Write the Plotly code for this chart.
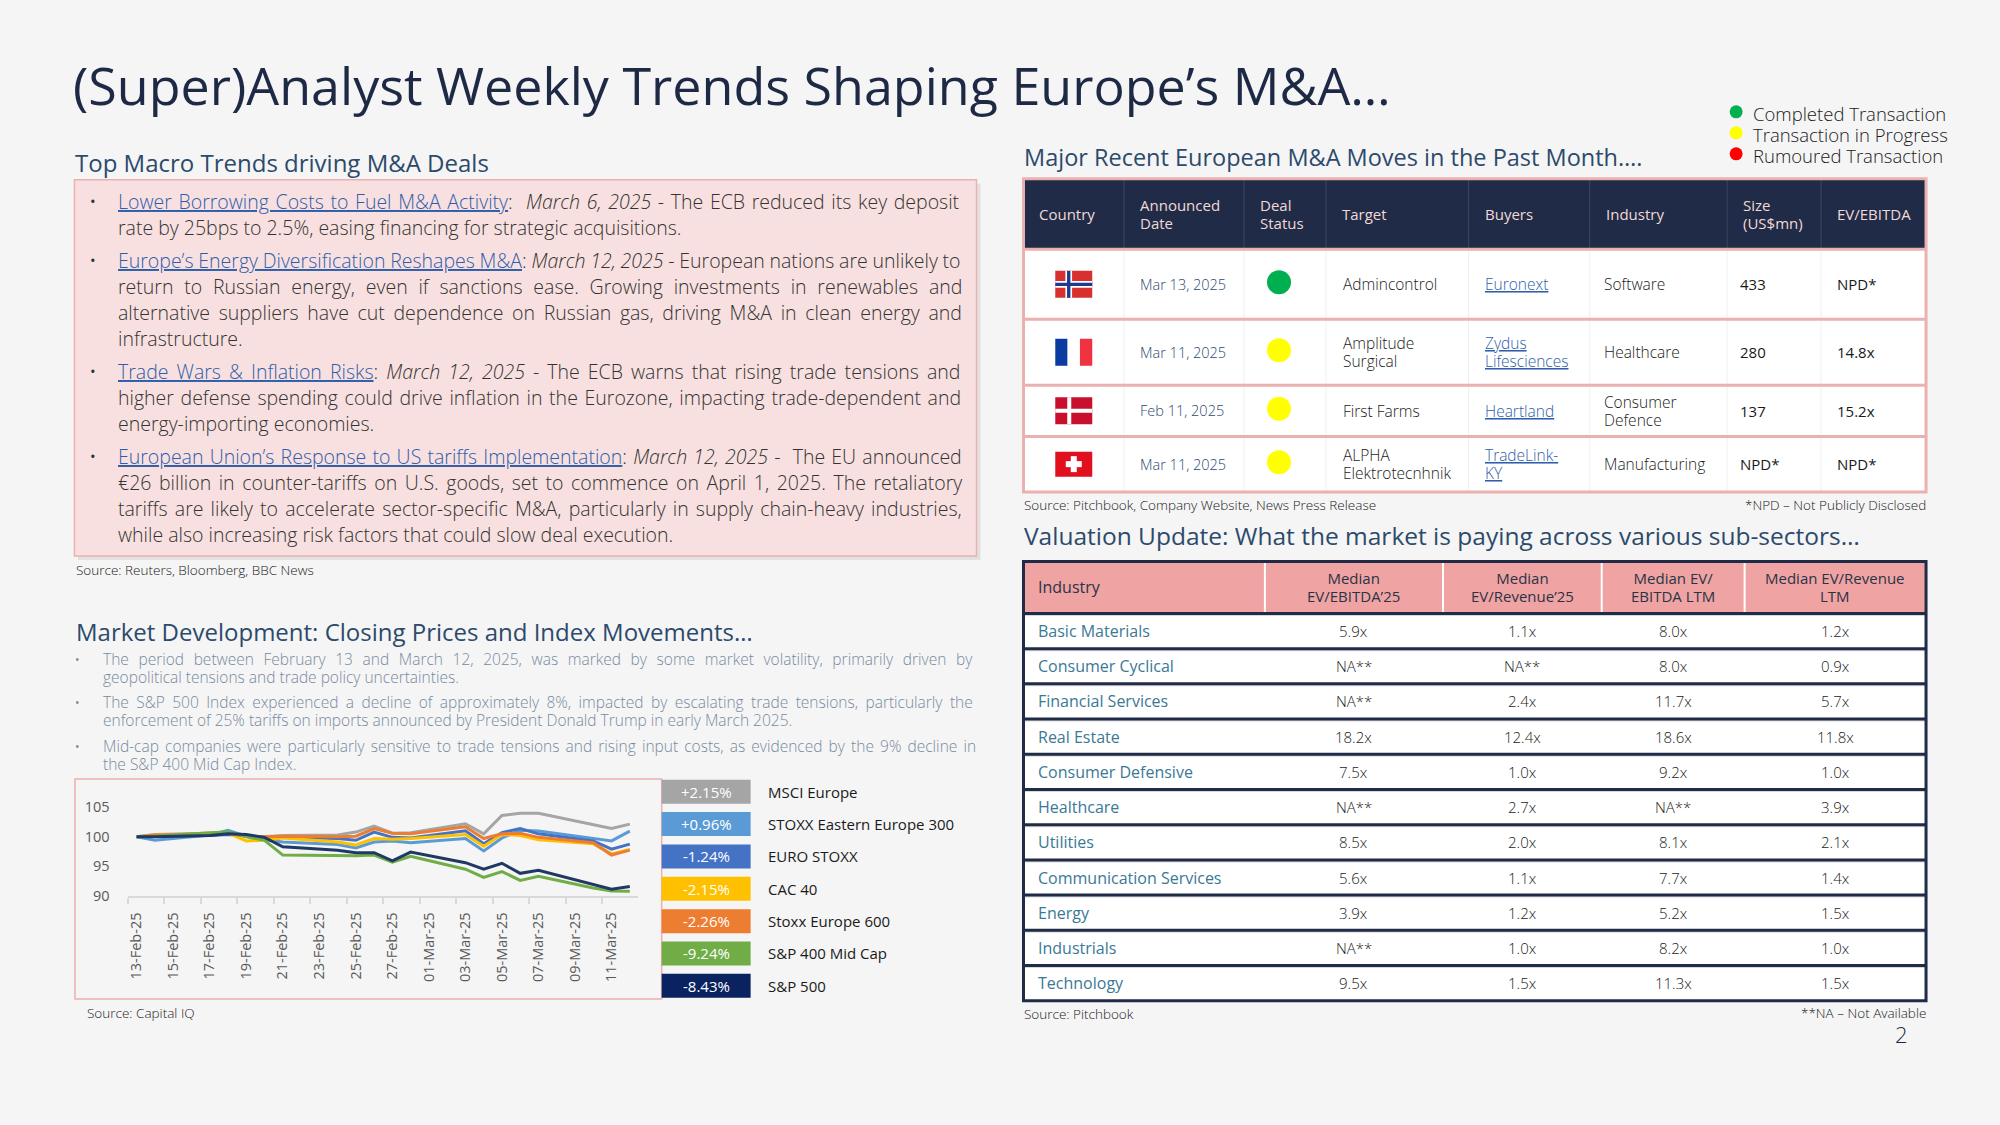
import plotly.graph_objects as go

# ===============================================================
# Data
# ===============================================================

dates = ["2025-02-13", "2025-02-14", "2025-02-17", "2025-02-18", "2025-02-19",
         "2025-02-20", "2025-02-21", "2025-02-24", "2025-02-25", "2025-02-26",
         "2025-02-27", "2025-02-28", "2025-03-03", "2025-03-04", "2025-03-05",
         "2025-03-06", "2025-03-07", "2025-03-10", "2025-03-11", "2025-03-12"]

msci_europe = [100, 100.4, 100.6, 100.7, 100.1, 100.0, 100.2, 100.3, 100.8, 101.8,
               100.6, 100.7, 102.2, 100.5, 103.6, 104.0, 104.0, 102.0, 101.4, 102.15]
stoxx_eastern = [100, 99.4, 100.3, 101.1, 100.1, 99.5, 99.1, 98.7, 98.1, 99.1,
                 99.3, 99.0, 99.7, 97.6, 99.8, 101.1, 101.0, 99.8, 99.3, 100.96]
euro_stoxx = [100, 100.1, 100.2, 100.4, 100.2, 99.8, 99.9, 99.7, 99.4, 100.8,
              99.9, 99.8, 101.0, 98.8, 100.7, 101.4, 100.5, 99.3, 97.9, 98.76]
cac_40 = [100, 100.3, 100.5, 100.6, 99.3, 99.4, 99.8, 99.1, 98.6, 99.7,
          99.6, 99.7, 100.4, 98.4, 100.4, 100.2, 99.5, 98.8, 97.1, 97.85]
stoxx_600 = [100, 100.3, 100.5, 100.6, 100.1, 100.0, 100.1, 100.0, 100.1, 101.4,
             100.6, 100.5, 101.7, 99.7, 100.5, 100.6, 99.9, 99.0, 96.9, 97.74]
sp_400 = [100, 100.1, 100.7, 100.8, 100.0, 99.4, 96.9, 96.8, 96.8, 96.9,
          95.7, 96.7, 94.5, 93.1, 94.1, 92.6, 93.3, 91.3, 90.8, 90.76]
sp_500 = [100, 100.0, 100.2, 100.5, 100.4, 99.9, 98.3, 97.7, 97.3, 97.3,
          95.9, 97.4, 95.6, 94.5, 95.5, 93.8, 94.3, 91.9, 91.1, 91.57]

series_names = ["MSCI Europe", "STOXX Eastern Europe 300", "EURO STOXX", "CAC 40",
                "Stoxx Europe 600", "S&P 400 Mid Cap", "S&P 500"]
series_values = [msci_europe, stoxx_eastern, euro_stoxx, cac_40, stoxx_600, sp_400, sp_500]
pct_labels = ["+2.15%", "+0.96%", "-1.24%", "-2.15%", "-2.26%", "-9.24%", "-8.43%"]

tick_dates = ["2025-02-13", "2025-02-15", "2025-02-17", "2025-02-19", "2025-02-21",
              "2025-02-23", "2025-02-25", "2025-02-27", "2025-03-01", "2025-03-03",
              "2025-03-05", "2025-03-07", "2025-03-09", "2025-03-11"]
tick_labels = ["13-Feb-25", "15-Feb-25", "17-Feb-25", "19-Feb-25", "21-Feb-25",
               "23-Feb-25", "25-Feb-25", "27-Feb-25", "01-Mar-25", "03-Mar-25",
               "05-Mar-25", "07-Mar-25", "09-Mar-25", "11-Mar-25"]
y_ticks = [90, 95, 100, 105]

# deals table
deal_headers = ["Country", "Announced<br>Date", "Deal<br>Status", "Target", "Buyers",
                "Industry", "Size<br>(US$mn)", "EV/EBITDA"]
deal_countries = ["Norway", "France", "Denmark", "Switzerland"]
deal_dates = ["Mar 13, 2025", "Mar 11, 2025", "Feb 11, 2025", "Mar 11, 2025"]
deal_status = ["Completed", "In Progress", "In Progress", "In Progress"]
deal_targets = ["Admincontrol", "Amplitude<br>Surgical", "First Farms", "ALPHA<br>Elektrotecnhnik"]
deal_buyers = ["Euronext", "Zydus<br>Lifesciences", "Heartland", "TradeLink-<br>KY"]
deal_industries = ["Software", "Healthcare", "Consumer<br>Defence", "Manufacturing"]
deal_sizes = ["433", "280", "137", "NPD*"]
deal_ev = ["NPD*", "14.8x", "15.2x", "NPD*"]
status_names = ["Completed Transaction", "Transaction in Progress", "Rumoured Transaction"]

# valuation table
val_headers = ["Industry", "Median<br>EV/EBITDA’25", "Median<br>EV/Revenue’25",
               "Median EV/<br>EBITDA LTM", "Median EV/Revenue<br>LTM"]
val_industries = ["Basic Materials", "Consumer Cyclical", "Financial Services", "Real Estate",
                  "Consumer Defensive", "Healthcare", "Utilities", "Communication Services",
                  "Energy", "Industrials", "Technology"]
ev_ebitda_25 = ["5.9x", "NA**", "NA**", "18.2x", "7.5x", "NA**", "8.5x", "5.6x", "3.9x", "NA**", "9.5x"]
ev_rev_25 = ["1.1x", "NA**", "2.4x", "12.4x", "1.0x", "2.7x", "2.0x", "1.1x", "1.2x", "1.0x", "1.5x"]
ev_ebitda_ltm = ["8.0x", "8.0x", "11.7x", "18.6x", "9.2x", "NA**", "8.1x", "7.7x", "5.2x", "8.2x", "11.3x"]
ev_rev_ltm = ["1.2x", "0.9x", "5.7x", "11.8x", "1.0x", "3.9x", "2.1x", "1.4x", "1.5x", "1.0x", "1.5x"]

# text blocks
macro_paragraphs = [
    ["<u>Lower Borrowing Costs to Fuel M&A Activity</u>:  <i>March 6, 2025</i> - The ECB reduced its key deposit",
     "rate by 25bps to 2.5%, easing financing for strategic acquisitions."],
    ["<u>Europe’s Energy Diversification Reshapes M&A</u>: <i>March 12, 2025</i> - European nations are unlikely to",
     "return to Russian energy, even if sanctions ease. Growing investments in renewables and",
     "alternative suppliers have cut dependence on Russian gas, driving M&A in clean energy and",
     "infrastructure."],
    ["<u>Trade Wars & Inflation Risks</u>: <i>March 12, 2025</i> - The ECB warns that rising trade tensions and",
     "higher defense spending could drive inflation in the Eurozone, impacting trade-dependent and",
     "energy-importing economies."],
    ["<u>European Union’s Response to US tariffs Implementation</u>: <i>March 12, 2025</i> -  The EU announced",
     "€26 billion in counter-tariffs on U.S. goods, set to commence on April 1, 2025. The retaliatory",
     "tariffs are likely to accelerate sector-specific M&A, particularly in supply chain-heavy industries,",
     "while also increasing risk factors that could slow deal execution."],
]
market_paragraphs = [
    ["The period between February 13 and March 12, 2025, was marked by some market volatility, primarily driven by",
     "geopolitical tensions and trade policy uncertainties."],
    ["The S&P 500 Index experienced a decline of approximately 8%, impacted by escalating trade tensions, particularly the",
     "enforcement of 25% tariffs on imports announced by President Donald Trump in early March 2025."],
    ["Mid-cap companies were particularly sensitive to trade tensions and rising input costs, as evidenced by the 9% decline in",
     "the S&P 400 Mid Cap Index."],
]

# ===============================================================
# Styles and helpers
# ===============================================================

W, H = 2000, 1125
FONT = "Open Sans"
TITLE_C = "#1E2A45"
HEAD_C = "#2C4A6B"
LINK_C = "#2E5EAA"
PINK = "#EBB0B0"
TABLE_NAVY = "#1F2B47"
series_colors = ["#A5A5A5", "#5B9BD5", "#4472C4", "#FFC000", "#ED7D31", "#70AD47", "#203864"]
box_colors = ["#A5A5A5", "#5B9BD5", "#4472C4", "#FFC000", "#ED7D31", "#70AD47", "#0B2260"]
status_colors = {"Completed": "#00B050", "In Progress": "#FFFF00", "Rumoured": "#FF0000"}
# word spacing (px) per line, to imitate the justified paragraphs
macro_spacing = [[1.6, 0], [-0.3, 5.7, 3.6, 0], [3.0, 1.6, 0], [1.1, 2.5, 2.1, 0]]
market_spacing = [[5.6, 0], [3.4, 0], [2.1, 0]]

# vertical positions; this stretches them back
Y_SCALE, Y_SHIFT = 1.012, -4.3


def X(v):
    return v / W


def Y(v):
    return 1 - (v * Y_SCALE + Y_SHIFT) / H


fig = go.Figure()


def text(x, y, s, size=15, color="#222222", anchor="left", weight=300):
    fig.add_annotation(x=X(x), y=Y(y), xref="paper", yref="paper", text=s, showarrow=False,
                       xanchor=anchor, yanchor="middle", align=anchor, borderpad=0,
                       font=dict(family=FONT, size=size, color=color, weight=weight))


def multi(x, y, s, size, spacing, color="#222222", anchor="left", weight=300, words=None):
    # line spacing follows the annotation font (1.3em), glyphs follow the span size
    parts = s.split("<br>")
    words = words or [0] * len(parts)
    body = "<br>".join("<span style='font-size:%.1fpx;word-spacing:%.1fpx'>%s</span>" % (size, ws, p)
                       for p, ws in zip(parts, words))
    base = spacing / 1.3 if len(parts) > 1 else size
    text(x, y, body, base, color, anchor, weight)


def rect(x0, y0, x1, y1, fill="rgba(0,0,0,0)", line="rgba(0,0,0,0)", lw=0):
    fig.add_shape(type="rect", xref="paper", yref="paper", x0=X(x0), x1=X(x1), y0=Y(y1), y1=Y(y0),
                  fillcolor=fill, line=dict(color=line, width=lw), layer="below")


def hline(x0, x1, y, color, lw):
    fig.add_shape(type="line", xref="paper", yref="paper", x0=X(x0), x1=X(x1), y0=Y(y), y1=Y(y),
                  line=dict(color=color, width=lw), layer="below")


def vline(x, y0, y1, color, lw):
    fig.add_shape(type="line", xref="paper", yref="paper", x0=X(x), x1=X(x), y0=Y(y0), y1=Y(y1),
                  line=dict(color=color, width=lw), layer="below")


def flag(country, cx, cy, w=37, h=27):
    x0, x1, y0, y1 = cx - w / 2, cx + w / 2, cy - h / 2, cy + h / 2
    if country == "Norway":
        rect(x0, y0, x1, y1, "#D8302F")
        rect(x0 + w * 6 / 22, y0, x0 + w * 10 / 22, y1, "white")
        rect(x0, y0 + h * 6 / 16, x1, y0 + h * 10 / 16, "white")
        rect(x0 + w * 7 / 22, y0, x0 + w * 9 / 22, y1, "#1D3A8F")
        rect(x0, y0 + h * 7 / 16, x1, y0 + h * 9 / 16, "#1D3A8F")
    elif country == "France":
        rect(x0, y0, x0 + w / 3, y1, "#0A3BA0")
        rect(x0 + w / 3, y0, x0 + 2 * w / 3, y1, "white")
        rect(x0 + 2 * w / 3, y0, x1, y1, "#EF3340")
    elif country == "Denmark":
        rect(x0, y0, x1, y1, "#C8102E")
        rect(x0 + w * 12 / 37, y0, x0 + w * 16 / 37, y1, "white")
        rect(x0, y0 + h * 12 / 28, x1, y0 + h * 16 / 28, "white")
    else:
        rect(x0, y0 + 1, x1, y1 - 1, "#E0101E")
        rect(cx - 3, cy - 8, cx + 3, cy + 8, "white")
        rect(cx - 8, cy - 3, cx + 8, cy + 3, "white")


# ===============================================================
# Title and macro trends
# ===============================================================

text(71, 85, "(Super)Analyst Weekly Trends Shaping Europe’s M&A…", 52, TITLE_C, weight=500)
text(73, 163, "Top Macro Trends driving M&A Deals", 24, HEAD_C, weight=400)

rect(77, 184, 980, 560, "rgba(0,0,0,0.08)")
rect(73.5, 180, 976, 556, "#F8E0E0", PINK, 1.5)
y = 201.5
for para, spc in zip(macro_paragraphs, macro_spacing):
    text(92.5, y, "•", 15, "#333333", anchor="center", weight=400)
    for ln, ws in zip(para, spc):
        ln = ln.replace("<u>", "<span style='color:%s'><u>" % LINK_C).replace("</u>", "</u></span>")
        text(116.5, y, "<span style='word-spacing:%.1fpx'>%s</span>" % (ws, ln), 19.5, "#333333")
        y += 25.9
    y += 33.2 - 25.9
text(74, 570, "Source: Reuters, Bloomberg, BBC News", 13.5, "#222222")

# ===============================================================
# Market development
# ===============================================================

text(74, 632, "Market Development: Closing Prices and Index Movements…", 24, HEAD_C, weight=400)
y = 659.5
for para, spc in zip(market_paragraphs, market_spacing):
    text(77, y, "•", 12, "#7A8DA2", anchor="center", weight=400)
    multi(101.5, y + 8.4, "<br>".join(para), 15.5, 18, "#768AA0", words=spc)
    y += 43.4

rect(74, 779, 661, 999, line=PINK, lw=1.5)
for name, vals, col in zip(series_names, series_values, series_colors):
    fig.add_trace(go.Scatter(x=dates, y=vals, name=name, mode="lines",
                             line=dict(color=col, width=3), hoverinfo="x+y+name"))

for i, (name, pct) in enumerate(zip(series_names, pct_labels)):
    top = 779.7 + i * 32.35
    rect(661, top, 750, top + 24, box_colors[i])
    text(705.5, top + 12, pct, 15, "white", anchor="center", weight=400)
    text(766, top + 12, name, 15, "#1A1A1A", weight=400)
text(85, 1013, "Source: Capital IQ", 13.5, "#222222")

# ===============================================================
# Major deals table
# ===============================================================

text(1023, 157, "Major Recent European M&A Moves in the Past Month….", 23.5, HEAD_C, weight=400)

leg_y = [112, 133, 154]
fig.add_trace(go.Scatter(x=[1736] * 3, y=leg_y, mode="markers", xaxis="x2", yaxis="y2",
                         marker=dict(size=13, color=list(status_colors.values()), line=dict(width=0)),
                         hoverinfo="skip", showlegend=False))
for yy, nm in zip(leg_y, status_names):
    text(1752, yy + 2, nm, 18.5, "#1A1A1A")

deal_cols = [1023, 1123.6, 1243.6, 1325.7, 1468.3, 1589.5, 1727, 1821, 1926]
deal_rows = [179, 249.5, 319.5, 385.3, 436.5, 492]
rect(deal_cols[0], deal_rows[0], deal_cols[-1], deal_rows[-1], "white")
rect(deal_cols[0], deal_rows[0], deal_cols[-1], deal_rows[1], TABLE_NAVY)
for cx in deal_cols[1:-1]:
    vline(cx, deal_rows[0], deal_rows[1], "#3A4764", 1)
    vline(cx, deal_rows[1], deal_rows[-1], "#F0F0F0", 1)
for ry in deal_rows[1:-1]:
    hline(deal_cols[0], deal_cols[-1], ry, PINK, 3)
rect(deal_cols[0], deal_rows[0], deal_cols[-1], deal_rows[-1], line=PINK, lw=3)

hy = (deal_rows[0] + deal_rows[1]) / 2
for cx, hd in zip(deal_cols, deal_headers):
    multi(cx + 15, hy, hd, 15, 17.5, "#F3D9D6", weight=400)

row_mid = [(a + b) / 2 for a, b in zip(deal_rows[1:-1], deal_rows[2:])]
for i, ry in enumerate(row_mid):
    flag(deal_countries[i], (deal_cols[0] + deal_cols[1]) / 2, ry)
    multi(deal_cols[1] + 15, ry, deal_dates[i], 14.5, 18, "#2E4A72")
    multi(deal_cols[3] + 16, ry, deal_targets[i], 15.5, 18, "#1A1A1A")
    buyer = "<br>".join("<u>%s</u>" % p for p in deal_buyers[i].split("<br>"))
    multi(deal_cols[4] + 15, ry, buyer, 15.5, 18, LINK_C)
    multi(deal_cols[5] + 13, ry, deal_industries[i], 15.5, 18, "#1A1A1A")
    multi(deal_cols[6] + 12, ry, deal_sizes[i], 15, 18, "#1A1A1A", weight=400)
    multi(deal_cols[7] + 15, ry, deal_ev[i], 15, 18, "#1A1A1A", weight=400)

fig.add_trace(go.Scatter(x=[(deal_cols[2] + deal_cols[3]) / 2 - 6] * len(row_mid),
                         y=[r - 2 for r in row_mid], mode="markers", xaxis="x2", yaxis="y2",
                         marker=dict(size=24, color=[status_colors[s] for s in deal_status], line=dict(width=0)),
                         hoverinfo="skip", showlegend=False))

text(1023, 505, "Source: Pitchbook, Company Website, News Press Release", 13.5, "#222222")
text(1927, 505, "*NPD – Not Publicly Disclosed", 13.5, "#222222", anchor="right")

# ===============================================================
# Valuation table
# ===============================================================

text(1023, 536, "Valuation Update: What the market is paying across various sub-sectors…", 24.5, HEAD_C, weight=400)

val_cols = [1023, 1264.5, 1442.7, 1601.5, 1744.5, 1926]
val_top, val_head, row_h = 561.5, 613.5, 35.2
val_bottom = val_head + row_h * len(val_industries)
rect(val_cols[0], val_top, val_cols[-1], val_bottom, "white")
rect(val_cols[0], val_top, val_cols[-1], val_head, "#F0A3A3")
for cx in val_cols[1:-1]:
    vline(cx, val_top, val_head, "white", 2)
for i in range(len(val_industries)):
    hline(val_cols[0], val_cols[-1], val_head + i * row_h + 1.5, "#D9D9D9", 2)
    hline(val_cols[0], val_cols[-1], val_head + i * row_h, TABLE_NAVY, 3)
rect(val_cols[0], val_top, val_cols[-1], val_bottom, line=TABLE_NAVY, lw=3)

hy = (val_top + val_head) / 2
text(val_cols[0] + 14, hy, val_headers[0], 16, "#2A3345", weight=400)
for j, hd in enumerate(val_headers[1:]):
    multi((val_cols[j + 1] + val_cols[j + 2]) / 2, hy, hd, 15, 17.5, "#2A3345",
          anchor="center", weight=400)

val_columns = [ev_ebitda_25, ev_rev_25, ev_ebitda_ltm, ev_rev_ltm]
for i, ind in enumerate(val_industries):
    ry = val_head + (i + 0.5) * row_h
    text(val_cols[0] + 14, ry, ind, 16, "#3B7896", weight=400)
    for j, col in enumerate(val_columns):
        text((val_cols[j + 1] + val_cols[j + 2]) / 2, ry, col[i], 15, "#1A1A1A", anchor="center")

text(1023, 1014, "Source: Pitchbook", 13.5, "#222222")
text(1927, 1013, "**NA – Not Available", 13.5, "#222222", anchor="right")
text(1893.5, 1034, "2", 22, TITLE_C)

# ===============================================================
# Layout
# ===============================================================

fig.update_layout(
    width=W, height=H, margin=dict(l=0, r=0, t=0, b=0),
    paper_bgcolor="#F5F5F5", plot_bgcolor="rgba(0,0,0,0)",
    showlegend=False, font=dict(family=FONT),
    xaxis=dict(domain=[X(126.6), X(637.5)], type="date",
               range=["2025-02-12 12:00", "2025-03-12 11:00"],
               tickmode="array", tickvals=tick_dates, ticktext=tick_labels, tickangle=-90,
               ticks="outside", ticklen=9, tickcolor="rgba(0,0,0,0)",
               tickfont=dict(family=FONT, size=14.5, color="#595959"),
               showline=True, linecolor="#D9D9D9", linewidth=2, showgrid=False, zeroline=False,
               minor=dict(ticks="outside", ticklen=6, tickwidth=2, tickcolor="#D9D9D9",
                          tick0="2025-02-12 12:00", dtick=172800000, showgrid=False)),
    yaxis=dict(domain=[Y(895.7), Y(801.4)], range=[90, 106], tickvals=y_ticks,
               ticks="outside", ticklen=14, tickcolor="rgba(0,0,0,0)",
               tickfont=dict(family=FONT, size=14.5, color="#595959"),
               showgrid=False, zeroline=False, showline=False),
    xaxis2=dict(domain=[0, 1], range=[0, W], visible=False, anchor="y2"),
    yaxis2=dict(domain=[0, 1], range=[(H - Y_SHIFT) / Y_SCALE, -Y_SHIFT / Y_SCALE],
                visible=False, anchor="x2"),
)

page_fix = ("document.body.style.margin='0';document.body.style.overflow='hidden';"
            "var g=document.getElementById('{plot_id}');"
            "g.style.position='fixed';g.style.top='0px';g.style.left='0px';")
fig.write_html("out.html", config={"displayModeBar": False}, post_script=page_fix)
